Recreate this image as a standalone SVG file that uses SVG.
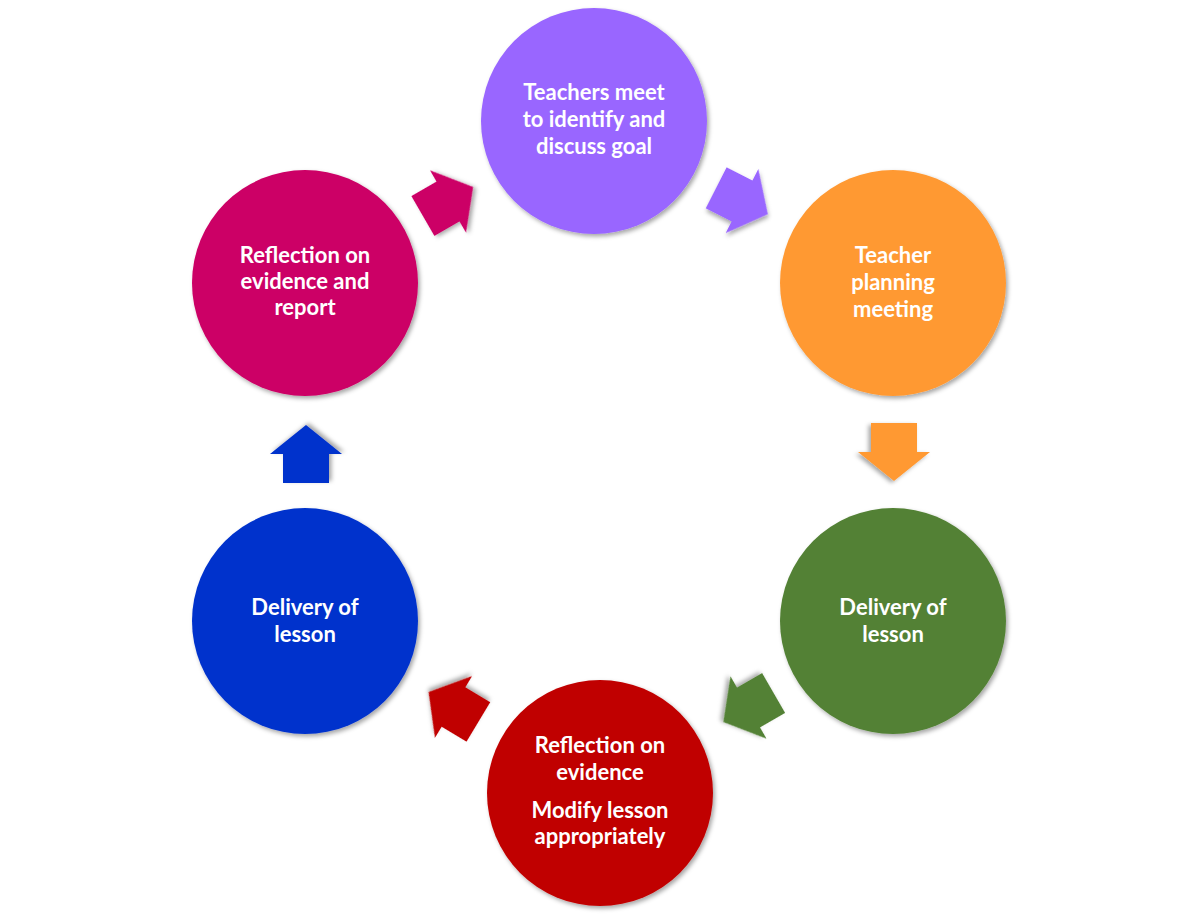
<svg xmlns="http://www.w3.org/2000/svg" width="1200" height="917" viewBox="0 0 1200 917">
<defs>
<filter id="sh" x="-20%" y="-20%" width="140%" height="140%">
<feDropShadow dx="2" dy="2.5" stdDeviation="2" flood-color="#000" flood-opacity="0.35"/>
</filter>
<path id="arr" d="M-29,-23 L0,-23 L0,-36 L29,0 L0,36 L0,23 L-29,23 Z"/>
</defs>
<style>
.c{filter:url(#sh)}
.t{font-family:Lato,"Open Sans","Liberation Sans",sans-serif;font-weight:bold;font-size:22px;fill:#fff;text-anchor:middle}
</style>
<rect width="1200" height="917" fill="#fff"/>
<g id="connectors">
<use href="#arr" fill="#CC0066" class="c" transform="translate(448,201.5) rotate(-30)"/>
<use href="#arr" fill="#9966FF" class="c" transform="translate(742,201) rotate(27)"/>
<use href="#arr" fill="#FF9933" class="c" transform="translate(894,452) rotate(90)"/>
<use href="#arr" fill="#538135" class="c" transform="translate(748.5,707.5) rotate(150)"/>
<use href="#arr" fill="#C00000" class="c" transform="translate(453.5,707) rotate(211)"/>
<use href="#arr" fill="#0033CC" class="c" transform="translate(306,454) rotate(-90)"/>
</g>
<g id="n1">
<circle cx="594" cy="121" r="113" fill="#9966FF" class="c"/>
<text class="t" x="594" y="100">Teachers meet</text>
<text class="t" x="594" y="127">to identify and</text>
<text class="t" x="594" y="154">discuss goal</text>
</g>
<g id="n2">
<circle cx="893" cy="283" r="113" fill="#FF9933" class="c"/>
<text class="t" x="893" y="263">Teacher</text>
<text class="t" x="893" y="290">planning</text>
<text class="t" x="893" y="317">meeting</text>
</g>
<g id="n3">
<circle cx="893" cy="621" r="113" fill="#538135" class="c"/>
<text class="t" x="893" y="615">Delivery of</text>
<text class="t" x="893" y="642">lesson</text>
</g>
<g id="n4">
<circle cx="600" cy="793" r="113" fill="#C00000" class="c"/>
<text class="t" x="600" y="753">Reflection on</text>
<text class="t" x="600" y="780">evidence</text>
<text class="t" x="600" y="818">Modify lesson</text>
<text class="t" x="600" y="844">appropriately</text>
</g>
<g id="n5">
<circle cx="305" cy="621" r="113" fill="#0033CC" class="c"/>
<text class="t" x="305" y="615">Delivery of</text>
<text class="t" x="305" y="642">lesson</text>
</g>
<g id="n6">
<circle cx="305" cy="283" r="113" fill="#CC0066" class="c"/>
<text class="t" x="305" y="263">Reflection on</text>
<text class="t" x="305" y="289">evidence and</text>
<text class="t" x="305" y="315">report</text>
</g>
</svg>
